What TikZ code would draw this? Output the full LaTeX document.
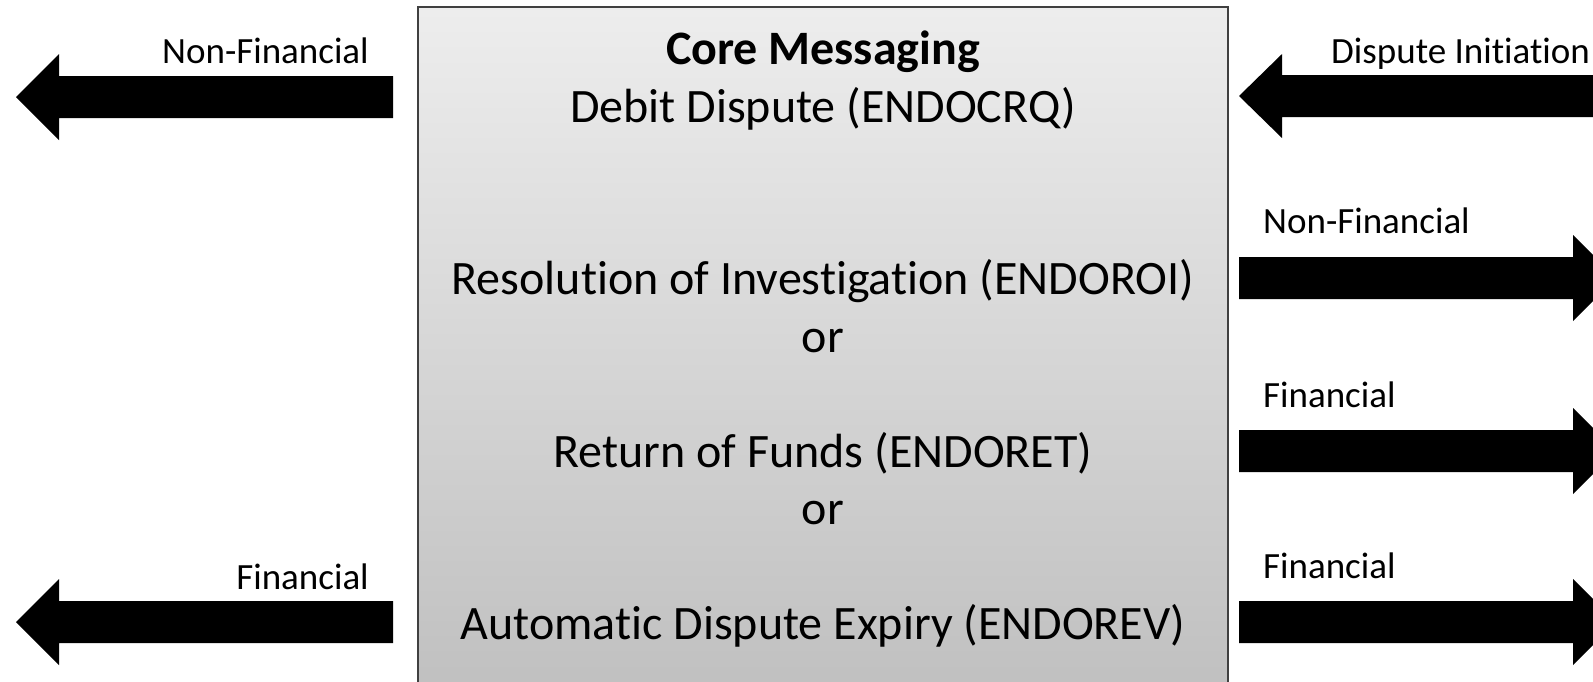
\documentclass[tikz,border=0pt]{standalone}
\usepackage{fontspec}
\setmainfont{Carlito}[Ligatures={NoCommon}]
\begin{document}
\begin{tikzpicture}[x=1pt,y=-1pt,
  lbl/.style={inner sep=0pt,font=\fontsize{37}{44}\selectfont},
  main/.style={inner sep=0pt,anchor=base,font=\fontsize{48}{57}\selectfont},
  blockarr/.style={fill=black},
  corebox/.style={draw=black!75,line width=1.5pt,top color=black!7,bottom color=black!25}]
\useasboundingbox (0,0) rectangle (1593,681);
\clip (0,0) rectangle (1593,681);
\fill[white] (0,0) rectangle (1593,681);
% core box
\path[corebox] (418,7) rectangle (1228,700);
\node[main] (title) at (823,64) {\textbf{Core Messaging}};
\node[main] (crq) at (823,122) {Debit Dispute (ENDOCRQ)};
\node[main] (roi) at (823,294) {Resolution of Investigation (ENDOROI)};
\node[main] (or1) at (823,352) {or};
\node[main] (ret) at (823,467) {Return of Funds (ENDORET)};
\node[main] (or2) at (823,524) {or};
\node[main] (rev) at (823,639) {Automatic Dispute Expiry (ENDOREV)};
% left arrows (pointing left)
\fill[blockarr] (393,76) -- (59,76) -- (59,54) -- (16,97) -- (59,140) -- (59,118) -- (393,118) -- cycle;
\fill[blockarr] (393,601) -- (59,601) -- (59,579) -- (16,622) -- (59,665) -- (59,643) -- (393,643) -- cycle;
\node[lbl,anchor=base east] (lnf) at (369,63) {Non-Financial};
\node[lbl,anchor=base east] (lf) at (369,589) {Financial};
% right: dispute initiation (pointing left)
\fill[blockarr] (1600,75) -- (1282,75) -- (1282,54) -- (1239,96) -- (1282,138) -- (1282,117) -- (1600,117) -- cycle;
\node[lbl,anchor=base west] (rdi) at (1331,63) {Dispute Initiation};
% right arrows (pointing right)
\fill[blockarr] (1239,257) -- (1573,257) -- (1573,235) -- (1616,278) -- (1573,321) -- (1573,299) -- (1239,299) -- cycle;
\fill[blockarr] (1239,430) -- (1573,430) -- (1573,408) -- (1616,451) -- (1573,494) -- (1573,472) -- (1239,472) -- cycle;
\fill[blockarr] (1239,601) -- (1573,601) -- (1573,579) -- (1616,622) -- (1573,665) -- (1573,643) -- (1239,643) -- cycle;
\node[lbl,anchor=base west] (rnf) at (1263,233) {Non-Financial};
\node[lbl,anchor=base west] (rf1) at (1263,407) {Financial};
\node[lbl,anchor=base west] (rf2) at (1263,578) {Financial};
\end{tikzpicture}
\end{document}
